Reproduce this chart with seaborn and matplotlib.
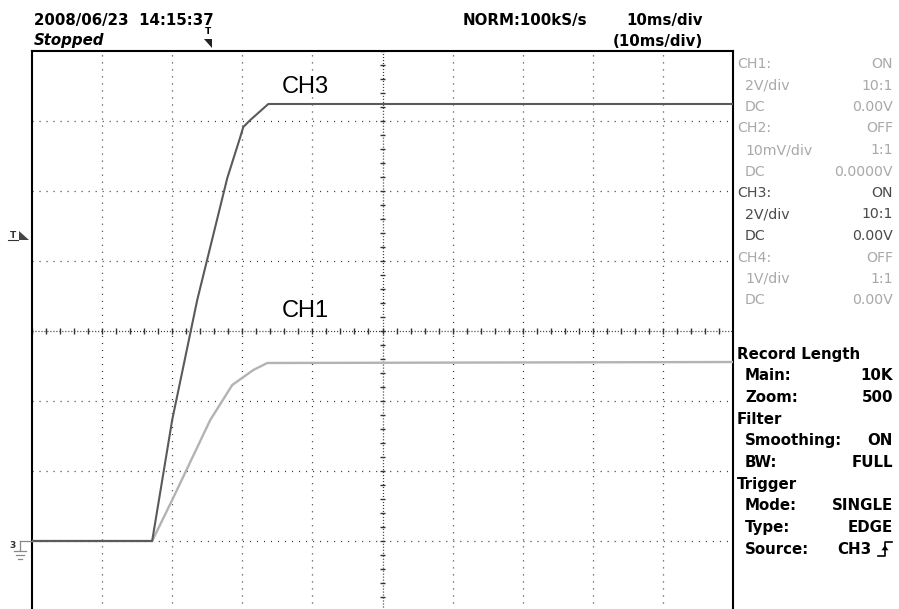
import matplotlib
matplotlib.use("Agg")
import matplotlib.pyplot as plt
import seaborn as sns
import numpy as np
import pandas as pd

# ---- trace data (in screen divisions: x 0..10, y -4..4, center = 0) ----
ch3_x = [0.0, 1.714, 2.0, 2.357, 2.786, 2.971, 3.014, 3.114, 3.371, 10.0]
ch3_y = [-3.0, -3.0, -1.27, 0.443, 2.186, 2.771, 2.914, 3.014, 3.243, 3.243]
ch1_x = [0.0, 1.714, 2.0, 2.543, 2.857, 3.157, 3.357, 10.0]
ch1_y = [-3.0, -3.0, -2.414, -1.271, -0.771, -0.557, -0.457, -0.443]

header_left = ["2008/06/23  14:15:37", "Stopped"]
header_right = ["NORM:100kS/s", "10ms/div", "(10ms/div)"]

ch_rows = [("CH1:", "ON"), ("2V/div", "10:1"), ("DC", "0.00V"),
           ("CH2:", "OFF"), ("10mV/div", "1:1"), ("DC", "0.0000V"),
           ("CH3:", "ON"), ("2V/div", "10:1"), ("DC", "0.00V"),
           ("CH4:", "OFF"), ("1V/div", "1:1"), ("DC", "0.00V")]
info_rows = [("Record Length", ""), ("Main:", "10K"), ("Zoom:", "500"),
             ("Filter", ""), ("Smoothing:", "ON"), ("BW:", "FULL"),
             ("Trigger", ""), ("Mode:", "SINGLE"), ("Type:", "EDGE"),
             ("Source:", "CH3")]

plt.rcParams["lines.scale_dashes"] = False
plt.rcParams["font.family"] = ["DejaVu Sans"]

W, H = 899, 609
fig = plt.figure(figsize=(W / 100, H / 100), dpi=100)
fig.patch.set_facecolor("white")

# main scope axes: px x 32..733, y 51..611
ax = fig.add_axes([32 / W, (H - 611) / H, 701 / W, 560 / H])
ax.set_xlim(0, 10)
ax.set_ylim(-4, 4)
ax.set_xticks([])
ax.set_yticks([])
for s in ["left", "top", "right"]:
    ax.spines[s].set_linewidth(1.5)
    ax.spines[s].set_color("black")
ax.spines["bottom"].set_visible(False)

gridc = "#333333"
for gx in range(1, 10):
    if gx != 5:
        ax.axvline(gx, color=gridc, lw=0.9, ls=(0, (0.75, 4.3)), zorder=1)
for gy in range(-3, 4):
    if gy != 0:
        ax.axhline(gy, color=gridc, lw=0.9, ls=(0, (0.75, 4.3)), zorder=1)
# center lines with minor ticks
ax.axvline(5, color=gridc, lw=0.9, ls=(0, (0.75, 1.4)), zorder=1)
ax.axhline(0, color=gridc, lw=0.9, ls=(0, (0.75, 1.4)), zorder=1)
tk = np.arange(0, 10.001, 0.2)
ax.vlines(tk, -0.04, 0.04, color=gridc, lw=1.0, zorder=1)
tky = np.arange(-4, 4.001, 0.2)
ax.hlines(tky, 5 - 0.04, 5 + 0.04, color=gridc, lw=1.0, zorder=1)

df3 = pd.DataFrame({"x": ch3_x, "y": ch3_y})
df1 = pd.DataFrame({"x": ch1_x, "y": ch1_y})
sns.lineplot(data=df1, x="x", y="y", ax=ax, color="#b3b3b3", lw=1.7,
             sort=False, errorbar=None, zorder=3)
sns.lineplot(data=df3, x="x", y="y", ax=ax, color="#5a5a5a", lw=1.5,
             sort=False, errorbar=None, zorder=4)
ax.set_xlabel("")
ax.set_ylabel("")
ax.set_xlim(0, 10)
ax.set_ylim(-4, 4)

# overlay axes in pixel coordinates
ov = fig.add_axes([0, 0, 1, 1])
ov.set_xlim(0, W)
ov.set_ylim(H, 0)
ov.axis("off")
ov.patch.set_alpha(0)

ov.text(282, 87, "CH3", fontsize=17, family="Liberation Sans", va="center", ha="left", color="black")
ov.text(282, 311, "CH1", fontsize=17, family="Liberation Sans", va="center", ha="left", color="black")

# header
hf = 10.8
ov.text(34, 20, header_left[0], fontsize=hf, weight="bold", va="center", ha="left")
ov.text(34, 40, header_left[1], fontsize=hf, weight="bold", style="italic", va="center", ha="left")
ov.text(463, 20, header_right[0], fontsize=hf, weight="bold", va="center", ha="left")
ov.text(626, 20, header_right[1], fontsize=hf, weight="bold", va="center", ha="left")
ov.text(613, 41, header_right[2], fontsize=hf, weight="bold", va="center", ha="left")

# trigger position marker on top
ov.text(208, 32, "T", fontsize=6.5, weight="bold", va="center", ha="center")
ov.fill([204, 212, 212], [39, 39, 48], color="#222222", lw=0)
# trigger level marker on left
ov.text(13, 235, "T", fontsize=6.5, weight="bold", va="center", ha="center", color="#333333")
ov.plot([8, 18], [239.5, 239.5], color="#333333", lw=0.8)
ov.fill([19, 19, 29], [231, 240, 240], color="#444444", lw=0)
# ground marker
ov.text(13, 545, "3", fontsize=6.5, weight="bold", va="center", ha="center", color="#333333")
gc = "#888888"
ov.plot([20, 32], [541, 541], color=gc, lw=0.9)
ov.plot([20, 20], [541, 550], color=gc, lw=0.9)
ov.plot([14, 26], [551, 551], color=gc, lw=0.9)
ov.plot([16, 24], [555, 555], color=gc, lw=0.9)
ov.plot([18, 22], [559, 559], color=gc, lw=0.9)

# channel panel
light = "#a9a9a9"
dark = "#4a4a4a"
y0, dy = 64, 21.5
for i, (lab, val) in enumerate(ch_rows):
    c = dark if 6 <= i <= 8 else light
    yy = y0 + i * dy
    lx = 737 if lab.startswith("CH") else 745
    ov.text(lx, yy, lab, fontsize=10.2, color=c, va="center", ha="left")
    ov.text(893, yy, val, fontsize=10.2, color=c, va="center", ha="right")

# info panel
y1, dy1 = 354, 21.7
for i, (lab, val) in enumerate(info_rows):
    yy = y1 + i * dy1
    lx = 737 if val == "" else 745
    ov.text(lx, yy, lab, fontsize=10.8, weight="bold", color="black", va="center", ha="left")
    if val:
        xr = 872 if lab == "Source:" else 893
        ov.text(xr, yy, val, fontsize=10.8, weight="bold", color="black", va="center", ha="right")

# rising edge symbol
ys = y1 + 9 * dy1
ov.plot([878, 885, 885, 892], [ys + 7, ys + 7, ys - 7, ys - 7], color="black", lw=1.2)
ov.fill([881.5, 888.5, 885], [ys + 1, ys + 1, ys - 4], color="black", lw=0)

fig.savefig("out.png", dpi=100)
